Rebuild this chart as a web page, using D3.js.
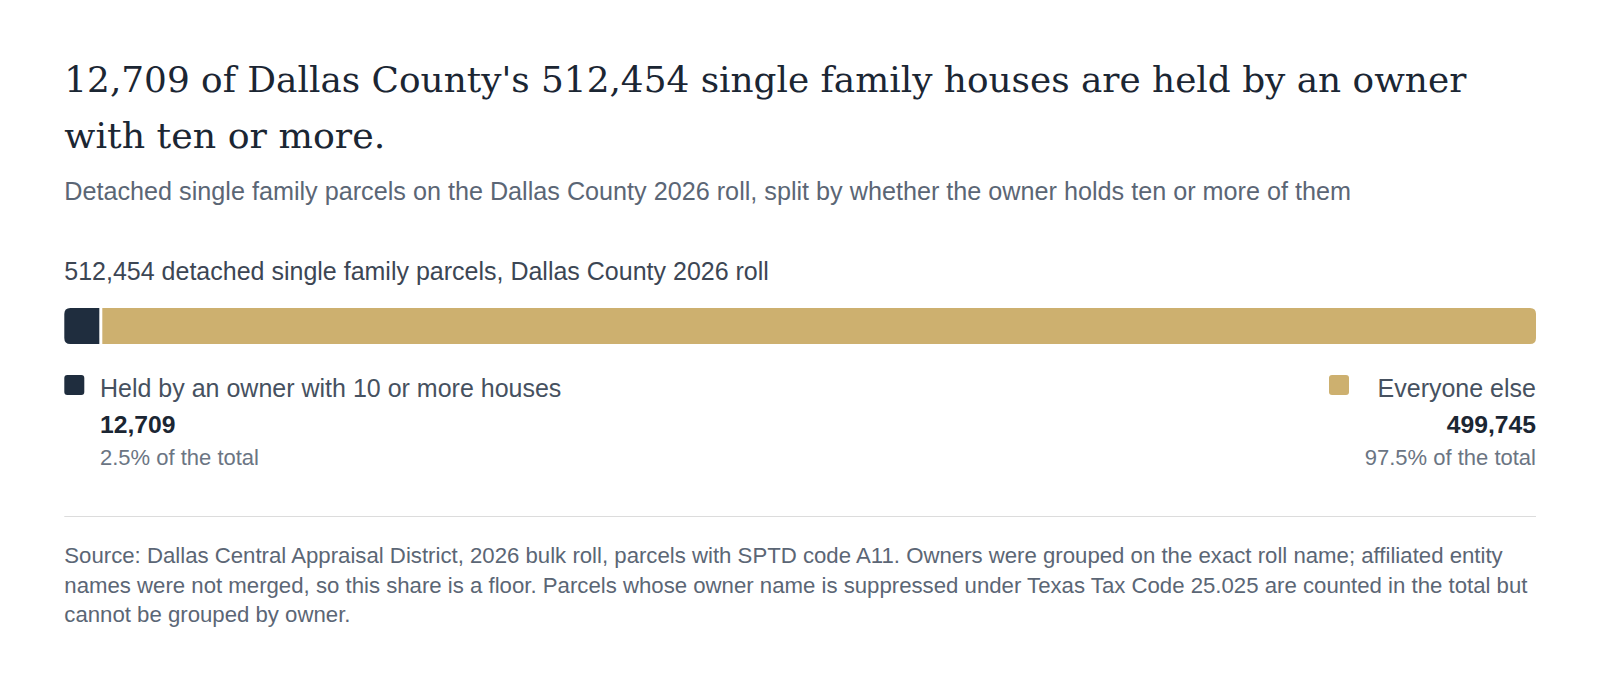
<!DOCTYPE html>
<html><head><meta charset="utf-8">
<script src="https://cdn.jsdelivr.net/npm/d3@7"></script>
<style>body{margin:0;background:#fff}svg{display:block}</style>
</head><body>
<svg id="c" width="1600" height="684"></svg>
<script>
const categories = ["Held by an owner with 10 or more houses", "Everyone else"];
const values = [12709, 499745];
const colors = ["#1f2d3e", "#cdb06f"];
const titleLines = ["12,709 of Dallas County's 512,454 single family houses are held by an owner", "with ten or more."];
const subtitle = "Detached single family parcels on the Dallas County 2026 roll, split by whether the owner holds ten or more of them";
const barLabel = "512,454 detached single family parcels, Dallas County 2026 roll";
const sourceLines = ["Source: Dallas Central Appraisal District, 2026 bulk roll, parcels with SPTD code A11. Owners were grouped on the exact roll name; affiliated entity",
 "names were not merged, so this share is a floor. Parcels whose owner name is suppressed under Texas Tax Code 25.025 are counted in the total but",
 "cannot be grouped by owner."];

const svg = d3.select("#c");
const L = 64.3, R = 1536;
const total = d3.sum(values);
const fmt = d3.format(",");
const sans = "'Liberation Sans', Arial, sans-serif";

svg.selectAll("text.t").data(titleLines).join("text")
  .attr("x", L).attr("y", (d,i)=>92 + i*56)
  .attr("font-family","'DejaVu Serif', Georgia, serif").attr("font-size",36).attr("fill","#1b2633")
  .attr("textLength", (d,i)=> i===0 ? 1402 : 321).attr("lengthAdjust","spacingAndGlyphs")
  .text(d=>d);
svg.append("text").attr("x",L).attr("y",200).attr("font-family",sans).attr("font-size",25.2).attr("fill","#5b6675").text(subtitle);
svg.append("text").attr("x",L).attr("y",280).attr("font-family",sans).attr("font-size",25).attr("fill","#3c4654").text(barLabel);

const x = d3.scaleLinear().domain([0,total]).range([L,R]);
let cum = 0;
const segs = values.map((v,i)=>{const s={v,i,x0:cum,x1:cum+v};cum+=v;return s;});
const y0 = 308, h = 36, gap = 3, r = 6;
function seg(s){
  const a = x(s.x0) + (s.i>0?gap/2:0), b = x(s.x1) - (s.i<values.length-1?gap/2:0);
  const lr = s.i===0 ? r : 0, rr = s.i===values.length-1 ? r : 0;
  return `M${a+lr},${y0} H${b-rr} Q${b},${y0} ${b},${y0+rr} V${y0+h-rr} Q${b},${y0+h} ${b-rr},${y0+h} H${a+lr} Q${a},${y0+h} ${a},${y0+h-lr} V${y0+lr} Q${a},${y0} ${a+lr},${y0} Z`;
}
svg.selectAll("path.seg").data(segs).join("path").attr("d",seg).attr("fill",d=>colors[d.i]);

const leg = [{i:0, sq:L, tx:100, anchor:"start"},{i:1, sq:1329, tx:R, anchor:"end"}];
leg.forEach(g=>{
  svg.append("rect").attr("x",g.sq).attr("y",375).attr("width",20).attr("height",20).attr("rx",3).attr("fill",colors[g.i]);
  svg.append("text").attr("x",g.tx).attr("y",397).attr("text-anchor",g.anchor).attr("font-family",sans).attr("font-size",25).attr("fill","#465160").text(categories[g.i]);
  svg.append("text").attr("x",g.tx).attr("y",433).attr("text-anchor",g.anchor).attr("font-family",sans).attr("font-size",24.7).attr("font-weight","bold").attr("fill","#1b2633").text(fmt(values[g.i]));
  svg.append("text").attr("x",g.tx).attr("y",465).attr("text-anchor",g.anchor).attr("font-family",sans).attr("font-size",22).attr("fill","#6b7583").text(d3.format(".1%")(values[g.i]/total)+" of the total");
});

svg.append("line").attr("x1",L).attr("x2",R).attr("y1",516.5).attr("y2",516.5).attr("stroke","#dcdcdc");
svg.selectAll("text.s").data(sourceLines).join("text")
  .attr("x",L).attr("y",(d,i)=>563+i*29.6).attr("font-family",sans).attr("font-size",22.2).attr("fill","#5b6675").text(d=>d);
</script></body></html>
